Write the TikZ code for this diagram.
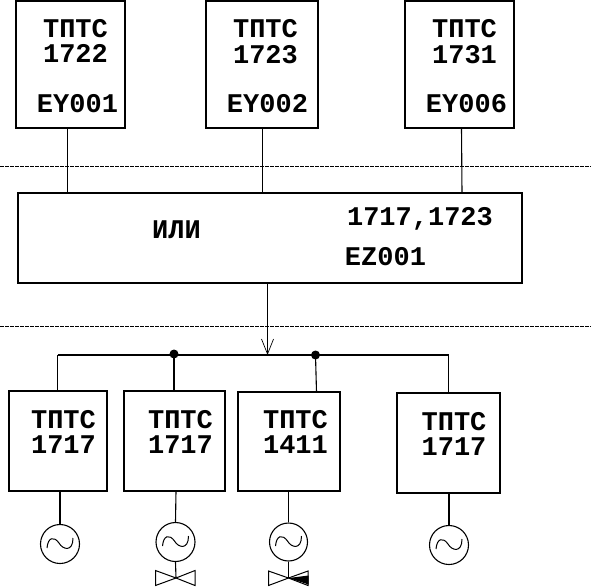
\documentclass[tikz,border=0pt]{standalone}
\usepackage{fontspec}
\setmonofont{Liberation Mono}[BoldFont={Liberation Mono Bold}]
\usetikzlibrary{arrows.meta}
\newcommand{\sinecurve}[1]{\draw[thin line] ([shift={(-13,4)}]#1.center) .. controls ([shift={(-12,-7)}]#1.center) and ([shift={(-6,-8)}]#1.center) .. ([shift={(-1,-1)}]#1.center) .. controls ([shift={(3,6)}]#1.center) and ([shift={(13,8)}]#1.center) .. ([shift={(13,-6)}]#1.center);}
\tikzset{
  x=1pt,y=-1pt,
  thin line/.style={line width=1pt},
  conn/.style={line width=1.1pt,black},
  boxn/.style={draw=black,line width=1.1pt,fill=white,inner sep=0pt},
  lbl/.style={font=\ttfamily\bfseries\fontsize{27}{27}\selectfont,text=black,inner sep=0pt,anchor=base},
  motor/.style={circle,draw=black,line width=1.1pt,inner sep=0pt},
  busdot/.style={circle,fill=black,inner sep=0pt,minimum size=9pt},
  sep/.style={line width=0.9pt,dash pattern=on 4pt off 1pt},
  valve/.style={draw=black,line width=1pt,line join=miter},
}
\begin{document}
\begin{tikzpicture}
\useasboundingbox (0,0) rectangle (594,587);
% separators
\coordinate (s1l) at (0,166); \coordinate (s1r) at (591,166);
\coordinate (s2l) at (0,326); \coordinate (s2r) at (591,326);
\draw[sep] (s1l) -- (s1r);
\draw[sep] (s2l) -- (s2r);
% top boxes
\node[boxn,minimum width=109pt,minimum height=127pt] (a1) at (70.5,64.5) {};
\node[boxn,minimum width=112pt,minimum height=127pt] (a2) at (262,64.5) {};
\node[boxn,minimum width=109pt,minimum height=127pt] (a3) at (459.5,64.5) {};
% OR box
\node[boxn,minimum width=504pt,minimum height=90pt] (or) at (270,238) {};
% bottom boxes
\node[boxn,minimum width=98pt,minimum height=100pt] (b1) at (58,441) {};
\node[boxn,minimum width=101pt,minimum height=100pt] (b2) at (174.5,441) {};
\node[boxn,minimum width=102pt,minimum height=99pt] (b3) at (289,441.5) {};
\node[boxn,minimum width=103pt,minimum height=100pt] (b4) at (448.5,443) {};
% top texts
\node[lbl] (ta1) at (75.5,37) {ТПТС};
\node[lbl] (tb1) at (75.5,62) {1722};
\node[lbl] (tc1) at (77.5,112) {EY001};
\node[lbl] (ta2) at (265.5,37) {ТПТС};
\node[lbl] (tb2) at (265.5,63) {1723};
\node[lbl] (tc2) at (267.5,112) {EY002};
\node[lbl] (ta3) at (464.5,37) {ТПТС};
\node[lbl] (tb3) at (464.5,63) {1731};
\node[lbl] (tc3) at (466.5,112) {EY006};
% OR texts
\node[lbl] (orl) at (176.5,238) {ИЛИ};
\node[lbl] (orn) at (420,225) {1717,1723};
\node[lbl] (orc) at (385.5,265) {EZ001};
% bottom texts
\node[lbl] (ba1) at (63.5,428) {ТПТС};
\node[lbl] (bb1) at (63.5,453) {1717};
\node[lbl] (ba2) at (180.5,428) {ТПТС};
\node[lbl] (bb2) at (180.5,453) {1717};
\node[lbl] (ba3) at (295.5,428) {ТПТС};
\node[lbl] (bb3) at (295.5,453) {1411};
\node[lbl] (ba4) at (454,430) {ТПТС};
\node[lbl] (bb4) at (454,455) {1717};
% top connectors
\coordinate (t1) at (67.5,193);
\coordinate (t2) at (262.5,193);
\coordinate (t3) at (462,193);
\draw[conn] (a1.south -| t1) -- (t1);
\draw[conn] (a2.south -| t2) -- (t2);
\draw[conn] (461.5,128) -- (t3);
% bus
\coordinate (busl) at (57.5,355);
\coordinate (busr) at (448.5,355);
\coordinate (j1) at (174,354);
\coordinate (j2) at (315.5,355);
\coordinate (ja) at (267.5,355);
\draw[conn] (busl) -- (busr);
\draw[conn] (busl) -- (busl |- b1.north);
\draw[conn] (j1) -- (j1 |- b2.north);
\draw[conn] (j2) -- (316.5,392);
\draw[conn] (busr) -- (busr |- b4.north);
\node[busdot] (d1) at (j1) {};
\node[busdot] (d2) at (j2) {};
\draw[line width=1pt,-{Straight Barb[length=15pt,width=12pt,line width=0.7pt]}] (or.south -| ja) -- (ja);
% motors
\node[motor,minimum size=39pt] (m1) at (60,544) {};
\node[motor,minimum size=39pt] (m2) at (175.5,542) {};
\node[motor,minimum size=38pt] (m3) at (288.5,542) {};
\node[motor,minimum size=39pt] (m4) at (449,545) {};
\sinecurve{m1}\sinecurve{m2}\sinecurve{m3}\sinecurve{m4}
\draw[conn] (b1.south -| m1) -- (m1.north);
\draw[conn] (176,491) -- (175.5,522);
\draw[conn] (b3.south -| m3) -- (m3.north);
\draw[conn] (b4.south -| m4) -- (m4.north);
% valves
\coordinate (v1) at (176,578);
\coordinate (v2) at (288.5,578);
\draw[conn] (m2.south) -- (v1);
\draw[conn] (m3.south) -- (v2);
\draw[valve] (v1) -- (155.5,570.5) -- (155.5,585.5) -- cycle;
\draw[valve] (v1) -- (195,570.5) -- (195,585.5) -- cycle;
\draw[valve] (v2) -- (268.5,571) -- (268.5,585.5) -- cycle;
\draw[valve] (v2) -- (308,571) -- (308,585.5) -- cycle;
\fill[black] (v2) -- (308.5,575.5) -- (308.5,584.5) -- cycle;
\end{tikzpicture}
\end{document}
